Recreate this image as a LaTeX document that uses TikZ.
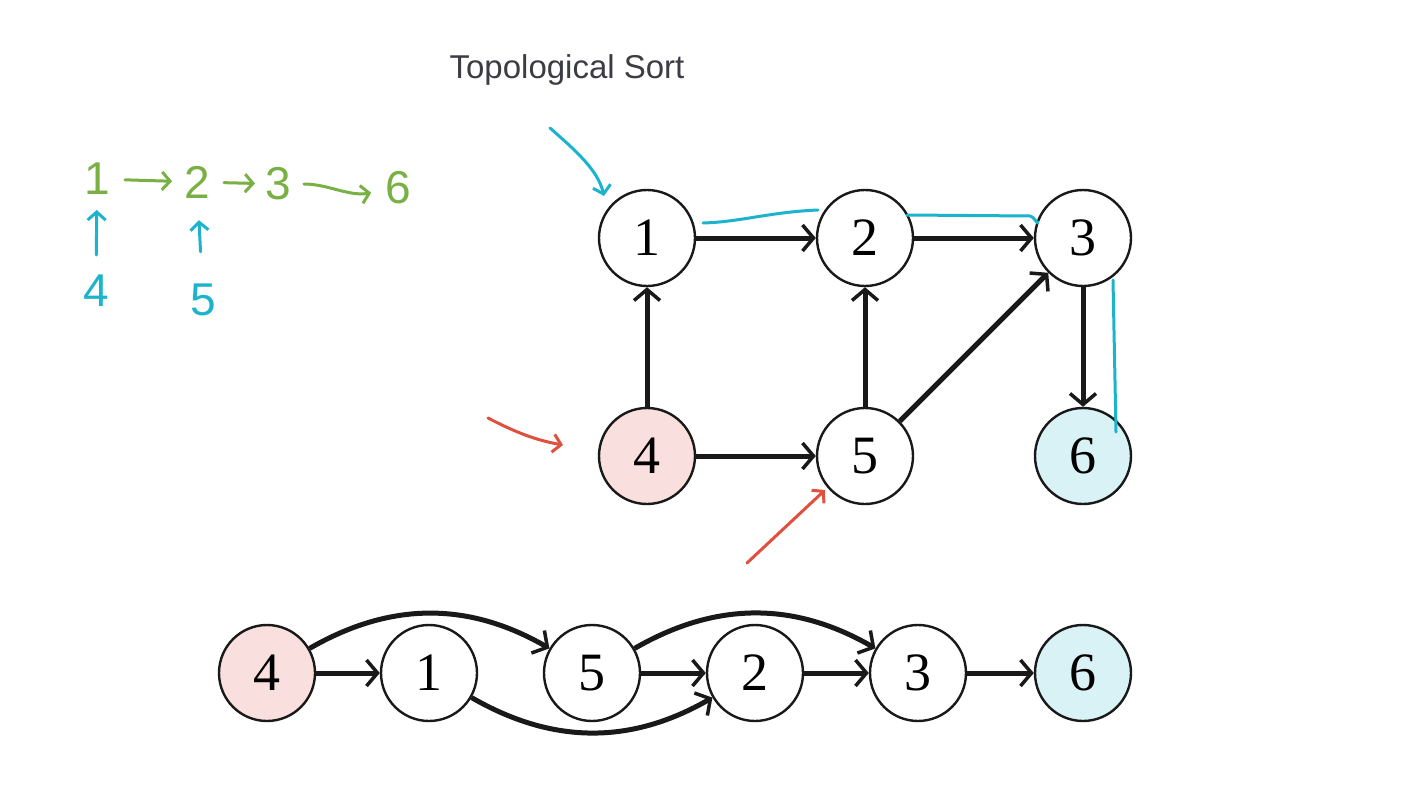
\documentclass[tikz,border=0pt]{standalone}
\usepackage{fontspec}
\setmainfont{Liberation Serif}
\newfontfamily\titlefont{Liberation Sans}
\newfontfamily\handfont{Liberation Sans}
\usetikzlibrary{arrows.meta}
\definecolor{pinkfill}{HTML}{F9DFDD}
\definecolor{cyanfill}{HTML}{D8F2F6}
\definecolor{handgreen}{HTML}{79B043}
\definecolor{handcyan}{HTML}{1CB4CC}
\definecolor{handred}{HTML}{E0503F}
\definecolor{titlegray}{HTML}{3C3C44}
\begin{document}
\begin{tikzpicture}[x=1pt,y=-1pt,
  vert/.style={circle, draw=black!90, line width=2.4pt, minimum size=96pt, inner sep=0pt,
    font=\fontsize{54}{54}\selectfont},
  pinkv/.style={vert, fill=pinkfill},
  cyanv/.style={vert, fill=cyanfill},
  edge/.style={line width=5pt, draw=black!90, -{Straight Barb[length=11pt,width=26pt,line width=3.5pt]}},
  hand/.style={inner sep=0pt, font=\handfont\fontsize{46}{46}\selectfont},
  greenhand/.style={hand, text=handgreen},
  cyanhand/.style={hand, text=handcyan},
  handarrow/.style={line width=3pt, line cap=round, line join=round,
    -{Straight Barb[length=8pt,width=18pt,line width=3pt]}},
  greenarrow/.style={handarrow, draw=handgreen},
  cyanarrow/.style={handarrow, draw=handcyan},
  redarrow/.style={handarrow, draw=handred},
  cyanline/.style={line width=3pt, line cap=round, line join=round, draw=handcyan},
]
\path[use as bounding box, fill=white] (0,0) rectangle (1422,800);

% title
\node[font=\titlefont\fontsize{33}{34}\selectfont, text=titlegray] (title) at (567,70) {Topological Sort};

% top graph
\node[vert]  (t1) at (647,238) {1};
\node[vert]  (t2) at (865,238) {2};
\node[vert]  (t3) at (1083,238) {3};
\node[pinkv] (t4) at (647,456) {4};
\node[vert]  (t5) at (865,456) {5};
\node[cyanv] (t6) at (1083,456) {6};
\draw[edge] (t1) -- (t2);
\draw[edge] (t2) -- (t3);
\draw[edge] (t4) -- (t1);
\draw[edge] (t4) -- (t5);
\draw[edge] (t5) -- (t2);
\draw[edge] (t5) -- (t3);
\draw[edge] (t3) -- (t6);

% bottom list
\node[pinkv] (b4) at (267,673) {4};
\node[vert]  (b1) at (429,673) {1};
\node[vert]  (b5) at (592,673) {5};
\node[vert]  (b2) at (755,673) {2};
\node[vert]  (b3) at (918,673) {3};
\node[cyanv] (b6) at (1083,673) {6};
\draw[edge] (b4) -- (b1);
\draw[edge] (b5) -- (b2);
\draw[edge] (b2) -- (b3);
\draw[edge] (b3) -- (b6);
\draw[edge] (b4) to[bend left=30] (b5);
\draw[edge] (b5) to[bend left=30] (b3);
\draw[edge] (b1) to[bend right=30] (b2);

% handwritten order
\node[greenhand] (h1) at (97,179) {1};
\node[greenhand] (h2) at (197,182) {2};
\node[greenhand] (h3) at (278,184) {3};
\node[greenhand] (h6) at (398,188) {6};
\draw[greenarrow, shorten <=15pt, shorten >=12pt] (h1) -- (h2);
\draw[greenarrow, shorten <=14pt, shorten >=10pt] (h2) -- (h3);
\draw[greenarrow, shorten <=13pt, shorten >=14pt] (h3) to[out=0,in=190] (h6);
\node[cyanhand] (c4) at (96,291) {4};
\node[cyanhand] (c5) at (203,300) {5};
\draw[cyanarrow, shorten <=20pt, shorten >=15pt] (c4) -- (h1);
\draw[cyanarrow, shorten <=32pt, shorten >=22pt] (c5) -- (h2);

% annotations on the graph
\coordinate (ca1) at (550,128);
\coordinate (ca2) at (604,196);
\draw[cyanarrow] (ca1) .. controls (575,150) and (598,170) .. (ca2);
\coordinate (cl1) at (703,223);
\coordinate (cl2) at (818,210);
\draw[cyanline] (cl1) .. controls (740,222) and (770,212) .. (cl2);
\coordinate (cl3) at (907,215);
\coordinate (cl4) at (1038,222);
\draw[cyanline] (cl3) -- (1030,216) to[out=0,in=-90] (cl4);
\coordinate (cl5) at (1113,280);
\coordinate (cl6) at (1116,432);
\draw[cyanline] (cl5) -- (cl6);
\coordinate (ra1) at (488,418);
\coordinate (ra2) at (563,445);
\draw[redarrow] (ra1) .. controls (515,432) and (535,440) .. (ra2);
\coordinate (rb1) at (747,563);
\coordinate (rb2) at (825,490);
\draw[redarrow] (rb1) -- (rb2);
\end{tikzpicture}
\end{document}
